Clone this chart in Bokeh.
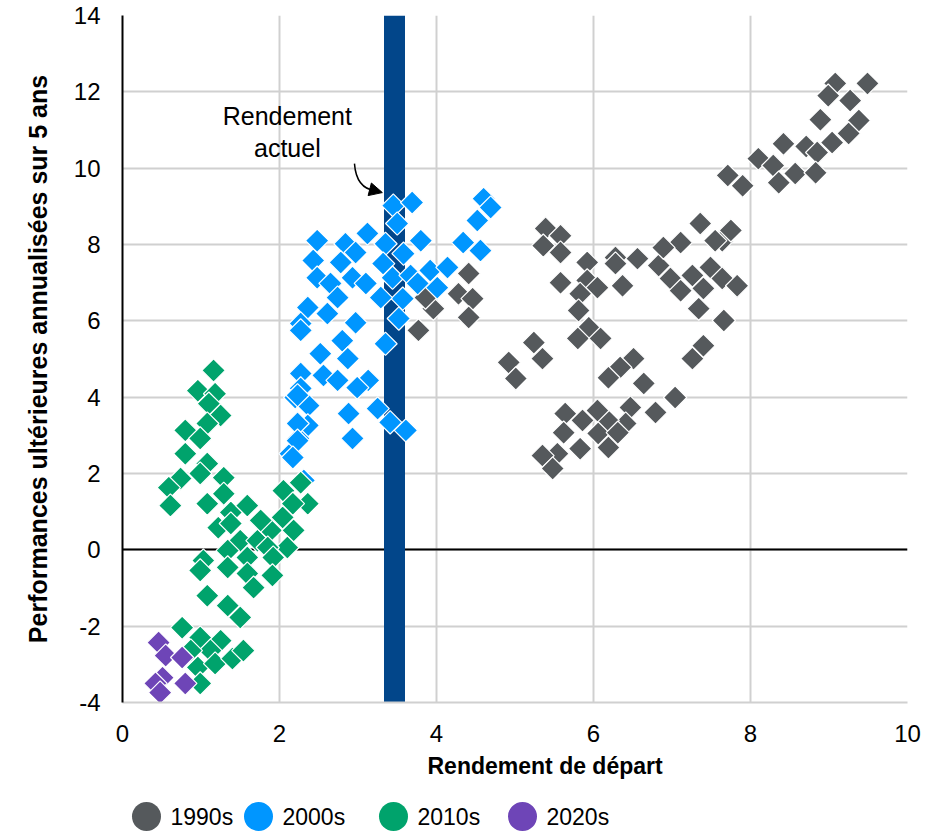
from bokeh.plotting import figure
from bokeh.models import Range1d, SingleIntervalTicker, Arrow, NormalHead, PrintfTickFormatter, Title
from bokeh.layouts import column
from bokeh.core.properties import value
from bokeh.embed import file_html
from bokeh.resources import INLINE

# ---------------- data ----------------
gray_x = [9.08, 9.49, 8.99, 9.27, 8.89, 9.38, 9.25, 9.04, 8.71, 8.42, 8.85, 8.10, 8.29, 8.57, 8.83, 8.36, 7.71, 7.90, 7.72, 7.64,
          5.39, 5.58, 5.36, 5.58, 5.92, 6.28, 6.56, 6.83, 7.11, 6.89, 7.36, 7.75, 7.55, 7.49, 7.26, 6.98, 7.11, 7.40, 7.64, 7.83,
          5.58, 5.92, 6.05, 5.83, 6.28, 6.37, 7.34, 7.66, 5.81, 5.94, 5.80, 6.09, 5.24, 5.35, 4.92, 5.01, 7.26, 7.40, 6.51, 6.34,
          6.19, 6.64, 7.04, 6.79, 6.47, 6.41, 6.18, 6.05, 5.86, 5.64, 5.62, 6.19, 5.83, 6.06, 5.54, 5.35, 5.48, 6.31,
          4.41, 4.28, 4.46, 4.41, 3.96, 3.77, 3.86]
gray_y = [12.22, 12.22, 11.90, 11.77, 11.27, 11.25, 10.91, 10.67, 10.57, 10.64, 10.41, 10.25, 10.07, 9.86, 9.88, 9.62, 9.81, 9.54, 8.31, 8.10,
          8.42, 8.23, 7.97, 7.79, 7.53, 7.66, 7.63, 7.45, 8.05, 7.92, 8.55, 8.37, 8.10, 7.40, 7.19, 7.11, 6.79, 6.85, 7.11, 6.92,
          7.00, 7.06, 6.87, 6.71, 7.50, 6.92, 6.32, 6.01, 6.27, 5.82, 5.54, 5.54, 5.43, 5.01, 4.91, 4.49, 5.01, 5.35, 5.01, 4.78,
          4.51, 4.36, 3.99, 3.60, 3.73, 3.31, 3.39, 3.65, 3.39, 3.57, 3.07, 2.68, 2.65, 3.05, 2.52, 2.47, 2.13, 3.07,
          7.24, 6.71, 6.58, 6.09, 6.32, 5.75, 6.61]

blue_x = [2.48, 2.84, 3.12, 3.45, 3.69, 3.50, 3.35, 3.58, 3.80, 2.97, 2.78, 2.43, 2.48, 2.65, 2.93, 3.10, 3.32, 3.44, 3.67, 3.92,
          4.14, 4.01, 3.76, 3.57, 3.29, 2.74, 2.36, 2.27, 2.61, 2.97, 3.52, 3.35, 2.80, 2.52, 2.87, 2.56, 2.27, 2.27, 2.74, 3.13,
          2.99, 2.20, 2.37, 2.88, 3.25, 3.41, 3.61, 2.36, 2.24, 2.93, 2.14, 4.60, 4.52, 4.34, 4.56, 4.69, 2.27, 2.23, 2.23, 2.23,
          2.17, 2.31]
blue_y = [8.10, 8.02, 8.29, 9.02, 9.10, 8.55, 8.02, 7.76, 8.10, 7.79, 7.53, 7.58, 7.13, 6.98, 7.13, 6.98, 7.50, 7.13, 7.19, 7.32,
          7.40, 6.87, 6.98, 6.58, 6.61, 6.61, 6.35, 5.93, 6.19, 5.95, 6.06, 5.40, 5.48, 5.14, 5.01, 4.57, 4.62, 4.23, 4.44, 4.44,
          4.25, 3.99, 3.78, 3.57, 3.70, 3.34, 3.13, 3.26, 2.92, 2.92, 2.52, 9.20, 8.63, 8.05, 7.84, 8.97, 5.75, 4.05, 3.31, 2.86,
          2.42, 1.82]

green_x = [1.16, 0.96, 1.18, 1.10, 1.25, 1.08, 0.80, 0.99, 0.80, 1.08, 0.74, 0.99, 1.29, 0.59, 0.61, 1.08, 1.29, 1.38, 1.59, 1.22,
           1.38, 1.50, 1.72, 1.89, 2.04, 2.05, 2.27, 2.36, 2.17, 2.18, 2.10, 1.85, 1.92, 1.59, 1.34, 1.03, 0.99, 1.34, 1.59, 1.67,
           1.91, 1.08, 1.34, 1.50, 0.76, 0.99, 1.25, 1.12, 0.96, 1.18, 1.40, 1.54, 0.87, 0.99, 1.76]
green_y = [4.70, 4.17, 4.09, 3.83, 3.52, 3.31, 3.13, 2.92, 2.52, 2.26, 1.87, 2.00, 1.89, 1.63, 1.16, 1.21, 1.47, 0.98, 1.16, 0.58,
           0.69, 0.24, 0.24, 0.51, 0.85, 1.55, 1.76, 1.21, 1.21, 0.51, 0.06, 0.06, -0.20, -0.20, -0.02, -0.28, -0.54, -0.46, -0.62, -0.99,
           -0.67, -1.20, -1.46, -1.77, -2.04, -2.30, -2.38, -2.64, -3.08, -2.98, -2.85, -2.64, -2.64, -3.50, 0.77]

purple_x = [0.46, 0.55, 0.76, 0.51, 0.80, 0.42, 0.48]
purple_y = [-2.43, -2.77, -2.82, -3.35, -3.50, -3.50, -3.74]

decades = ["1990s", "2000s", "2010s", "2020s"]
colors = ["#55595C", "#0096FF", "#00A36C", "#6E45B7"]

current_yield = 3.46
annot_lines = ["Rendement", "actuel"]

x_label = "Rendement de départ"
y_label = "Performances ultérieures annualisées sur 5 ans"

FONT = "Liberation Sans"
GRID = "#D0D0D0"

# ---------------- main figure ----------------
p = figure(width=926, height=786, output_backend="svg", toolbar_location=None,
           x_range=Range1d(0, 10), y_range=Range1d(-4, 14),
           min_border_left=122, min_border_right=19, min_border_top=15, min_border_bottom=84)
p.outline_line_color = None
p.background_fill_color = "white"
p.border_fill_color = "white"

for ax in (p.xaxis[0], p.yaxis[0]):
    ax.major_tick_line_color = None
    ax.minor_tick_line_color = None
    ax.major_tick_out = 0
    ax.major_tick_in = 0
    ax.minor_tick_out = 0
    ax.major_label_text_font = FONT
    ax.major_label_text_font_size = "24px"
    ax.major_label_text_color = "black"
    ax.axis_label_text_font = FONT
    ax.axis_label_text_font_style = "bold"
    ax.axis_label_text_color = "black"
    ax.formatter = PrintfTickFormatter(format="%d")

p.xaxis.ticker = SingleIntervalTicker(interval=2)
p.yaxis.ticker = SingleIntervalTicker(interval=2)
p.yaxis.axis_label = y_label
p.yaxis.axis_label_text_font_size = "25px"
p.xaxis.major_label_standoff = 22
p.yaxis.major_label_standoff = 22
p.yaxis.axis_label_standoff = 19
p.xaxis.axis_line_color = GRID
p.xaxis.axis_line_width = 2
p.yaxis.axis_line_color = "black"
p.yaxis.axis_line_width = 2

# x-axis title, placed a little right of the frame centre as in the original
p.add_layout(Title(text=x_label, align="left", offset=305, text_font=FONT,
                   text_font_size="23px", text_font_style="bold", text_color="black",
                   standoff=13), "below")

p.xgrid.grid_line_color = GRID
p.ygrid.grid_line_color = GRID
p.xgrid.grid_line_width = 2
p.ygrid.grid_line_width = 2

# zero line and current-yield bar
p.hspan(y=[0], line_color="black", line_width=2)
p.vspan(x=[current_yield], line_color="#02468A", line_width=21)

series = [(gray_x, gray_y), (blue_x, blue_y), (green_x, green_y), (purple_x, purple_y)]
for (xs, ys), c in zip(series, colors):
    p.scatter(xs, ys, marker="square", size=16.5, angle=0.785398, fill_color=c,
              line_color="white", line_width=1.2)

# annotation
p.text(x=[2.10, 2.10], y=[11.36, 10.52], text=annot_lines, text_align="center",
       text_baseline="alphabetic", text_font=value(FONT), text_font_size="25px", text_color="black")
p.bezier(x0=[2.955], y0=[10.12], x1=[3.22], y1=[9.41], cx0=[2.97], cy0=[9.70],
         cx1=[3.06], cy1=[9.45], line_color="black", line_width=1.5)
p.add_layout(Arrow(end=NormalHead(size=13, fill_color="black", line_color="black"),
                   x_start=3.18, y_start=9.43, x_end=3.31, y_end=9.36,
                   line_color="black", line_width=1.5))

# ---------------- legend figure (frame aligned with the chart's frame) ----------------
leg = figure(width=926, height=45, output_backend="svg", toolbar_location=None,
             x_range=Range1d(122, 907), y_range=Range1d(831, 786),
             min_border_left=122, min_border_right=19, min_border_top=0, min_border_bottom=0)
leg.axis.visible = False
leg.grid.visible = False
leg.outline_line_color = None
leg.border_fill_color = "white"
leg.background_fill_color = "white"

leg_cx = [146, 258, 393, 522]
leg_cy = [816, 816, 816, 816]
leg.scatter(leg_cx, leg_cy, marker="circle", size=29, fill_color=colors, line_color=None)
leg.text(x=[c + 24 for c in leg_cx], y=leg_cy, text=decades, text_align="left",
         text_baseline="middle", text_font=value(FONT), text_font_size="23px", text_color="black")

layout = column(p, leg, spacing=0)
open("out.html", "w").write(file_html(layout, INLINE))
